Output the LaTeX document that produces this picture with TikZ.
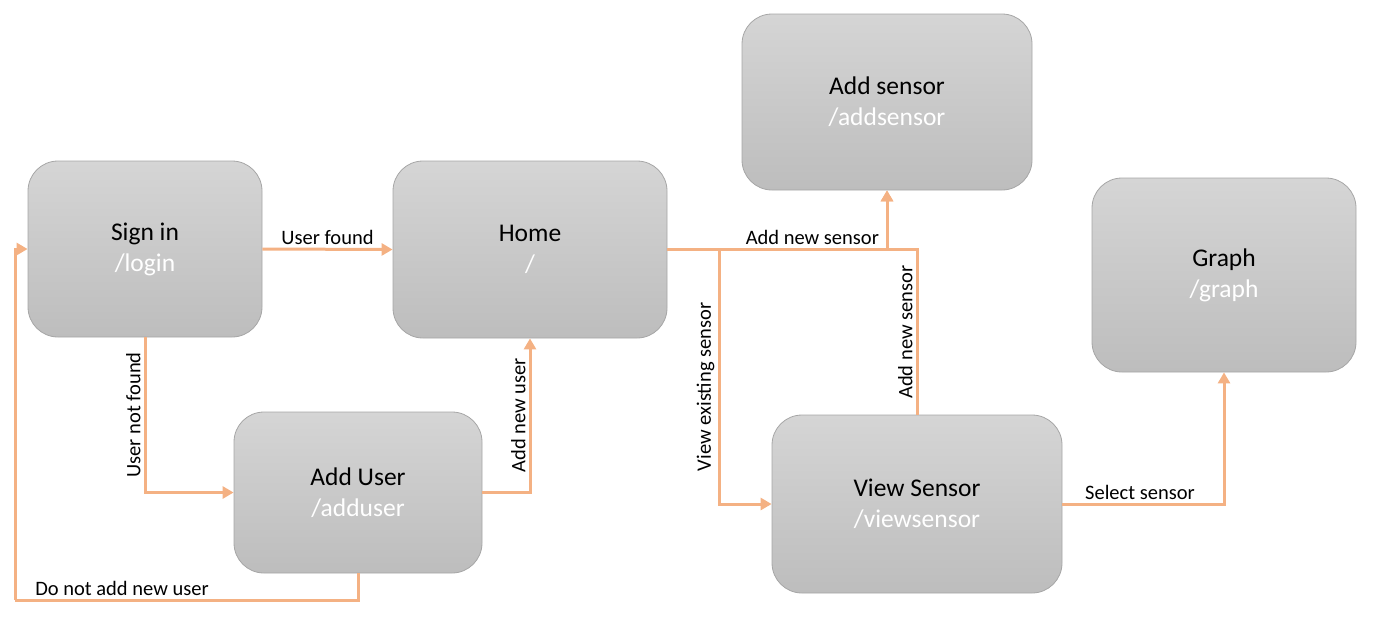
\documentclass[tikz,border=0pt]{standalone}
\usepackage{fontspec}
\setmainfont{Carlito}
\usetikzlibrary{arrows.meta}
\definecolor{flowcol}{HTML}{F4B183}
\definecolor{boxtop}{HTML}{D5D5D5}
\definecolor{boxbot}{HTML}{BDBDBD}
\definecolor{boxline}{HTML}{A6A6A6}
\tikzset{
  page/.style={draw=boxline, line width=0.8pt, top color=boxtop, bottom color=boxbot,
    rounded corners=30pt, align=center, font=\fontsize{25.5}{31}\selectfont},
  flow/.style={draw=flowcol, line width=3pt, -{Triangle[length=11pt,width=12pt]}},
  plain/.style={draw=flowcol, line width=3pt},
  lbl/.style={font=\fontsize{20.5}{23}\selectfont, inner sep=3pt}
}
\begin{document}
\begin{tikzpicture}[x=1pt,y=-1pt]
    \useasboundingbox (0,0) rectangle (1388,630);
    \node[page, minimum width=234pt, minimum height=176pt] (signin) at (145,249) {Sign in\\\textcolor{white}{/login}};
    \node[page, minimum width=274pt, minimum height=177pt] (home) at (530,249.5) {Home\\\textcolor{white}{/}};
    \node[page, minimum width=290pt, minimum height=176pt] (addsensor) at (887,102) {Add sensor\\\textcolor{white}{/addsensor}};
    \node[page, minimum width=264pt, minimum height=194pt] (graph) at (1224,275) {Graph\\\textcolor{white}{/graph}};
    \node[page, minimum width=248pt, minimum height=161pt] (adduser) at (358,492.5) {Add User\\\textcolor{white}{/adduser}};
    \node[page, minimum width=290pt, minimum height=178pt] (viewsensor) at (917,504) {View Sensor\\\textcolor{white}{/viewsensor}};
    \coordinate (loopcorner) at (15,600);
    \coordinate (split) at (719,249.5);

    \draw[flow] (signin.east) -- (home.west) node[midway, above, lbl] {User found};
    \draw[flow] (signin.south) |- (adduser.west) node[pos=0.25, rotate=90, above, lbl] {User not found};
    \draw[flow] (adduser.east) -| (home.south) node[pos=0.75, rotate=90, above, lbl] {Add new user};
    \draw[plain] (adduser.south) |- (loopcorner) node[pos=0.844, above, lbl] {Do not add new user};
    \draw[flow] (loopcorner) |- (signin.west);
    \draw[flow] (home.east) -| (addsensor.south) node[pos=0.33, above, lbl] {Add new sensor};
    \draw[flow] (split) |- (viewsensor.west) node[pos=0.27, rotate=90, above, lbl] {View existing sensor};
    \draw[flow] (viewsensor.north) |- (home.east -| addsensor.south) node[pos=0.25, rotate=90, above, lbl] {Add new sensor} -- (addsensor.south);
    \draw[flow] (viewsensor.east) -| (graph.south) node[pos=0.24, above, lbl] {Select sensor};
\end{tikzpicture}
\end{document}
